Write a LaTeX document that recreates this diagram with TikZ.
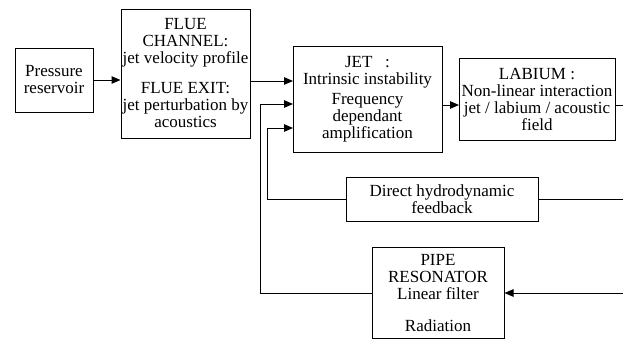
\documentclass[tikz,border=0pt]{standalone}
\usepackage{fontspec}
\setmainfont{Liberation Serif}
\usetikzlibrary{arrows.meta,calc}
\begin{document}
\begin{tikzpicture}[x=1pt,y=-1pt,
  blk/.style={draw,line width=1pt,align=center,inner sep=0pt,
    font=\fontsize{17}{17}\selectfont},
  link/.style={line width=1pt},
  feed/.style={line width=1pt,-{Triangle[length=9pt,width=7.5pt]}}]
\useasboundingbox (0,0) rectangle (623,340);

% blocks
\node[blk,minimum width=78pt,minimum height=64pt] (res) at (54,80)
  {Pressure\\reservoir};
\node[blk,minimum width=129pt,minimum height=129pt] (flue) at (185.5,73.5)
  {FLUE\\CHANNEL:\\jet velocity profile\\[13pt]FLUE EXIT:\\jet perturbation by\\acoustics};
\node[blk,minimum width=149pt,minimum height=106pt] (jet) at (367.5,99)
  {JET\ \ \ :\\Intrinsic instability\\[3pt]Frequency\\dependant\\amplification};
\node[blk,minimum width=156pt,minimum height=82pt] (lab) at (537,99)
  {LABIUM :\\Non-linear interaction\\jet / labium / acoustic\\field};
\node[blk,minimum width=192pt,minimum height=44pt] (dir) at (442,199)
  {Direct hydrodynamic\\feedback};
\node[blk,minimum width=132pt,minimum height=91pt] (pipe) at (438,293)
  {PIPE\\RESONATOR\\Linear filter\\[15pt]Radiation};

% inputs on the jet block
\coordinate (j1) at (293,81);
\coordinate (j2) at (293,104);
\coordinate (j3) at (293,128);
\coordinate (lin) at (459,105);
% feedback turning points
\coordinate (fa) at (260,293);
\coordinate (fb) at (267,199);
% off-page ends on the right
\coordinate (r1) at (623,105);
\coordinate (r2) at (623,199);
\coordinate (r3) at (623,293);

% forward path
\draw[feed] (res.east |- 0,80) -- (flue.west |- 0,80);
\draw[feed] (flue.east |- j1) -- (j1);
\draw[feed] (jet.east |- lin) -- (lin);
\draw[link] (lab.east |- r1) -- (r1);

% hydrodynamic feedback
\draw[link] (r2) -- (dir.east);
\draw[feed] (dir.west) -- (fb) |- (j3);

% acoustic feedback through the pipe
\draw[feed] (r3) -- (pipe.east |- r3);
\draw[feed] (pipe.west |- fa) -- (fa) |- (j2);
\end{tikzpicture}
\end{document}
